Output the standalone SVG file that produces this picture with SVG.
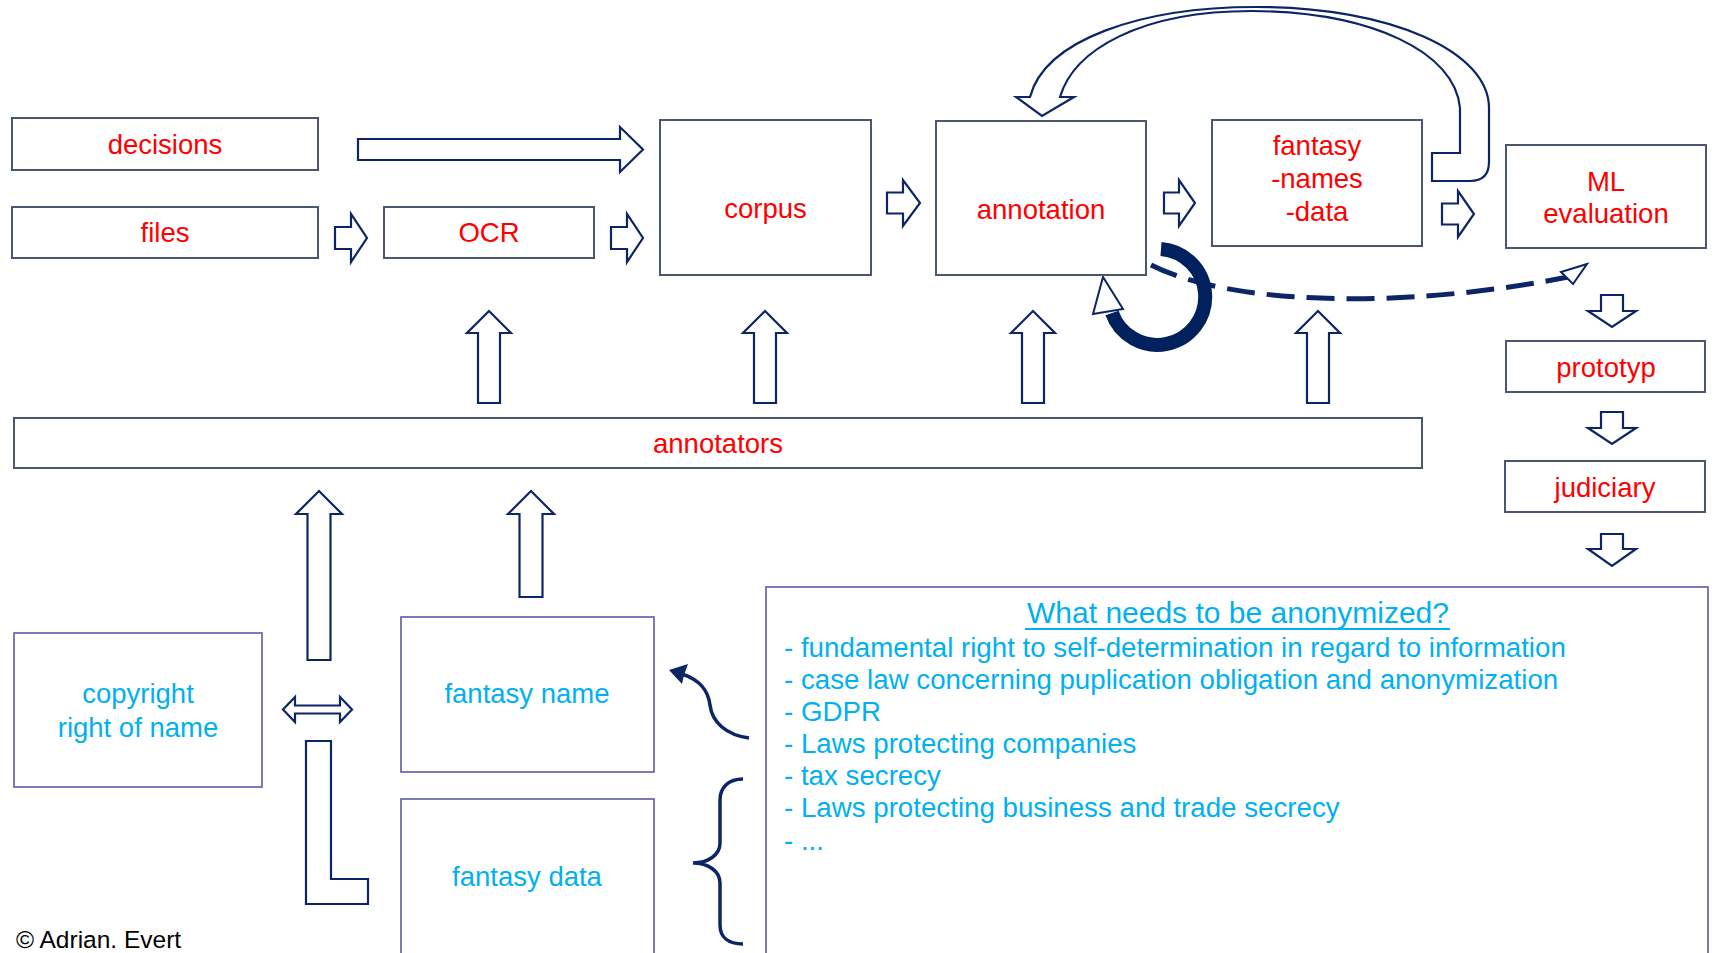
<svg xmlns="http://www.w3.org/2000/svg" width="1715" height="953" viewBox="0 0 1715 953">
<style>
.box{fill:#fff;stroke:#4B5670;stroke-width:2}
.box2{fill:#fff;stroke:#5A5AA8;stroke-width:1.6}
.ba{fill:#fff;stroke:#0B2566;stroke-width:2.2;stroke-linejoin:miter}
.lr{font-family:"Liberation Sans",Arial,sans-serif;font-size:27.5px;fill:#FF0000;text-anchor:middle}
.lb{font-family:"Liberation Sans",Arial,sans-serif;font-size:27.5px;fill:#00B0F0;text-anchor:middle}
.li{font-family:"Liberation Sans",Arial,sans-serif;font-size:27.7px;fill:#00B0F0}
</style>
<rect width="1715" height="953" fill="#fff"/>

<g id="connectors">
  <path class="ba" d="M358,139 L620,139 L620,127 L643,149.5 L620,172 L620,160 L358,160 Z"/>
  <path class="ba" d="M335,227 L351,227 L351,214 L367,238 L351,262 L351,249 L335,249 Z"/>
  <path class="ba" d="M611,227 L627,227 L627,214 L643,238 L627,262 L627,249 L611,249 Z"/>
  <path class="ba" d="M887,192.5 L903,192.5 L903,180 L920,203 L903,226 L903,213.5 L887,213.5 Z"/>
  <path class="ba" d="M1164,192.5 L1179,192.5 L1179,180 L1195,203 L1179,226 L1179,213.5 L1164,213.5 Z"/>
  <path class="ba" d="M1442,203.5 L1458,203.5 L1458,191 L1474,214 L1458,237 L1458,224.5 L1442,224.5 Z"/>
  <path class="ba" d="M1432,153 L1460,153 L1460,108 C1455,52 1372,12 1252,11 C1140,11 1074,50 1060,97 L1074,97 L1042,116 L1016,97 L1030,97 C1045,40 1140,7 1256,7 C1392,7 1489,52 1489,108 L1489,162 Q1489,181 1470,181 L1432,181 Z"/>
  <path d="M1151,265 C1230,305 1400,310 1568,277" fill="none" stroke="#0B2566" stroke-width="5" stroke-dasharray="28 12"/>
  <polygon points="1587,264 1561,272 1573,284" fill="#fff" stroke="#0B2566" stroke-width="2"/>
  <path d="M1161,249 A48,48 0 1 1 1112,313" fill="none" stroke="#00205E" stroke-width="14"/>
  <polygon points="1103,277 1093,314 1123,309" fill="#fff" stroke="#0B2566" stroke-width="2"/>
  <path class="ba" d="M478,403 L478,333 L467,333 L489,311 L511,333 L500,333 L500,403 Z"/>
  <path class="ba" d="M754,403 L754,333 L743,333 L765,311 L787,333 L776,333 L776,403 Z"/>
  <path class="ba" d="M1022,403 L1022,333 L1011,333 L1033,311 L1055,333 L1044,333 L1044,403 Z"/>
  <path class="ba" d="M1307,403 L1307,333 L1296,333 L1318,311 L1340,333 L1329,333 L1329,403 Z"/>
  <path class="ba" d="M1601,295 L1623,295 L1623,311 L1636,311 L1612,327 L1588,311 L1601,311 Z"/>
  <path class="ba" d="M1601,412 L1623,412 L1623,428 L1636,428 L1612,444 L1588,428 L1601,428 Z"/>
  <path class="ba" d="M1601,534 L1623,534 L1623,549 L1636,549 L1612,566 L1588,549 L1601,549 Z"/>
  <path class="ba" d="M307.5,660 L307.5,514 L296,514 L319,491 L342,514 L330.5,514 L330.5,660 Z"/>
  <path class="ba" d="M519.5,597 L519.5,514 L508,514 L531,491 L554,514 L542.5,514 L542.5,597 Z"/>
  <path class="ba" d="M283,709.5 L295,697 L295,705.5 L340,705.5 L340,697 L352,709.5 L340,722 L340,713.5 L295,713.5 L295,722 Z"/>
  <path class="ba" d="M306,741 L331,741 L331,879 L368,879 L368,904 L306,904 Z"/>
  <path d="M749,738 C726,735 712,722 710,705 C708,690 700,680 682,674" fill="none" stroke="#0B2566" stroke-width="3.5"/>
  <polygon points="669,670 688,664 684,675 682,684" fill="#0B2566"/>
  <path d="M743,779 C728,779 720,788 720,800 L720,843 C720,855 708,863 693,863 C708,863 720,871 720,883 L720,925 C720,937 728,944 743,944" fill="none" stroke="#0B2566" stroke-width="3.5"/>
</g>

<g id="decisions"><rect class="box" x="12" y="118" width="306" height="52"/><text class="lr" x="165" y="154">decisions</text></g>
<g id="files"><rect class="box" x="12" y="207" width="306" height="51"/><text class="lr" x="165" y="242">files</text></g>
<g id="ocr"><rect class="box" x="384" y="207" width="210" height="51"/><text class="lr" x="489" y="242">OCR</text></g>
<g id="corpus"><rect class="box" x="660" y="120" width="211" height="155"/><text class="lr" x="765.5" y="218">corpus</text></g>
<g id="annotation"><rect class="box" x="936" y="121" width="210" height="154"/><text class="lr" x="1041" y="219">annotation</text></g>
<g id="fantasy-names-data"><rect class="box" x="1212" y="120" width="210" height="126"/><text class="lr" x="1317" y="155">fantasy</text><text class="lr" x="1317" y="188">-names</text><text class="lr" x="1317" y="221">-data</text></g>
<g id="ml-evaluation"><rect class="box" x="1506" y="145" width="200" height="103"/><text class="lr" x="1606" y="191">ML</text><text class="lr" x="1606" y="223">evaluation</text></g>
<g id="prototyp"><rect class="box" x="1506" y="341" width="199" height="51"/><text class="lr" x="1606" y="377">prototyp</text></g>
<g id="judiciary"><rect class="box" x="1505" y="461" width="200" height="51"/><text class="lr" x="1605" y="497">judiciary</text></g>
<g id="annotators"><rect class="box" x="14" y="418" width="1408" height="50"/><text class="lr" x="718" y="453">annotators</text></g>

<g id="copyright"><rect class="box2" x="14" y="633" width="248" height="154"/><text class="lb" x="138" y="703">copyright</text><text class="lb" x="138" y="737">right of name</text></g>
<g id="fantasy-name"><rect class="box2" x="401" y="617" width="253" height="155"/><text class="lb" x="527" y="703">fantasy name</text></g>
<g id="fantasy-data"><rect class="box2" x="401" y="799" width="253" height="170"/><text class="lb" x="527" y="886">fantasy data</text></g>
<g id="anonymize-box"><rect class="box2" x="766" y="587" width="942" height="380"/>
  <text class="lb" x="1238" y="623" style="font-size:30px">What needs to be anonymized?</text>
  <line x1="1025" y1="629" x2="1450" y2="629" stroke="#00B0F0" stroke-width="2"/>
  <text class="li" x="784" y="657">- fundamental right to self-determination in regard to information</text>
  <text class="li" x="784" y="689">- case law concerning puplication obligation and anonymization</text>
  <text class="li" x="784" y="721">- GDPR</text>
  <text class="li" x="784" y="753">- Laws protecting companies</text>
  <text class="li" x="784" y="785">- tax secrecy</text>
  <text class="li" x="784" y="817">- Laws protecting business and trade secrecy</text>
  <text class="li" x="784" y="850">- ...</text>
</g>
<g id="credit"><text x="16" y="948" font-family="'Liberation Sans',Arial,sans-serif" font-size="24.5" fill="#000">© Adrian. Evert</text></g>
</svg>
